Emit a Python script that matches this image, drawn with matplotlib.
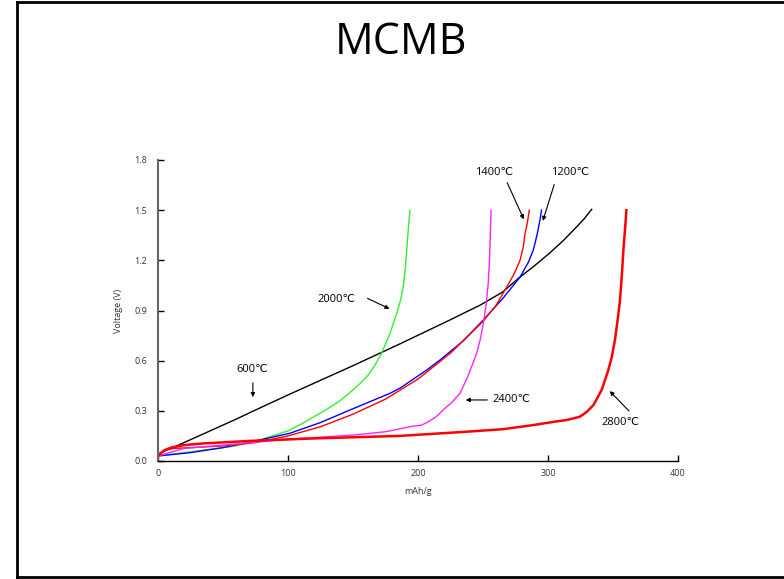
import matplotlib
matplotlib.use("Agg")
import matplotlib.pyplot as plt
from matplotlib.lines import Line2D

plt.rcParams['font.family'] = ['Open Sans', 'DejaVu Sans']

# Capacity (mAh/g) and voltage (V) for each heat-treatment temperature
cap_600 = [0, 5, 10, 20, 40, 60, 75, 100, 150, 186, 225, 248, 265, 278.5, 290, 301.5, 312, 322, 328, 333.6]
volt_600 = [0.04, 0.06, 0.075, 0.11, 0.18, 0.25, 0.305, 0.395, 0.57, 0.70, 0.845, 0.933, 1.01, 1.10, 1.17, 1.245, 1.32, 1.40, 1.45, 1.505]

cap_1200 = [0, 25, 50, 75, 101.5, 125, 147.7, 178.5, 186, 206.7, 216.9, 235, 250.2, 265, 278.5, 285, 288.7, 291.5, 293.8, 295]
volt_1200 = [0.03, 0.05, 0.08, 0.12, 0.166, 0.23, 0.305, 0.405, 0.435, 0.544, 0.604, 0.72, 0.843, 0.97, 1.10, 1.19, 1.262, 1.35, 1.44, 1.50]

cap_1400 = [0, 5, 12, 25, 50, 75, 100, 125, 150, 175, 200, 225, 250, 260, 268.2, 274, 278.5, 281, 282.3, 284, 285.6]
volt_1400 = [0.04, 0.065, 0.075, 0.08, 0.09, 0.11, 0.15, 0.205, 0.28, 0.37, 0.49, 0.645, 0.835, 0.93, 1.04, 1.12, 1.20, 1.28, 1.36, 1.42, 1.50]

cap_2000 = [0, 20, 40, 60, 80, 100, 110, 120, 130, 140, 147.7, 155, 161.8, 167, 172, 178.5, 183.6, 186.5, 188.7, 190.2, 191.3, 192.5, 193.8]
volt_2000 = [0.03, 0.05, 0.07, 0.09, 0.13, 0.18, 0.22, 0.265, 0.31, 0.36, 0.41, 0.46, 0.515, 0.575, 0.644, 0.764, 0.883, 0.96, 1.043, 1.15, 1.262, 1.38, 1.50]

cap_2400 = [0, 20, 50, 100, 150, 175, 193.8, 203, 208, 214, 220, 226, 232.3, 238, 242, 245.1, 248, 250.2, 252.3, 254, 255, 255.6, 256.2]
volt_2400 = [0.03, 0.075, 0.095, 0.13, 0.155, 0.175, 0.205, 0.215, 0.235, 0.265, 0.31, 0.35, 0.405, 0.50, 0.58, 0.644, 0.73, 0.82, 0.93, 1.06, 1.20, 1.35, 1.50]

cap_2800 = [0, 5, 10, 20, 35, 70, 120, 186, 237, 265, 288.7, 305, 314.4, 324.6, 330, 335, 341.3, 346.4,
            349, 351.5, 353.5, 355.4, 356.8, 358, 359.2, 360.3]
volt_2800 = [0.03, 0.065, 0.08, 0.095, 0.105, 0.12, 0.135, 0.15, 0.175, 0.19, 0.215, 0.235, 0.245, 0.265, 0.295, 0.335, 0.425, 0.544,
             0.62, 0.724, 0.84, 0.963, 1.11, 1.262, 1.38, 1.50]

x_ticks = [0, 100, 200, 300, 400]
y_ticks = [0.0, 0.3, 0.6, 0.9, 1.2, 1.5, 1.8]

fig = plt.figure(figsize=(7.84, 5.79), dpi=100)

# slide frame
fig.add_artist(Line2D([17/784, 17/784], [0, 1 - 2/579], transform=fig.transFigure, color='black', lw=2))
fig.add_artist(Line2D([17/784, 1], [1 - 2/579, 1 - 2/579], transform=fig.transFigure, color='black', lw=2))
fig.add_artist(Line2D([17/784, 1], [1 - 577/579, 1 - 577/579], transform=fig.transFigure, color='black', lw=2))

fig.text(401/784, 1 - 43/579, 'MCMB', ha='center', va='center', fontsize=31, color='black')

ax = fig.add_axes([158/784, 1 - 461/579, 520/784, 301/579])
ax.plot(cap_600, volt_600, color='black', lw=1.0)
ax.plot(cap_2000, volt_2000, color='#33ee33', lw=1.0)
ax.plot(cap_1200, volt_1200, color='blue', lw=1.0)
ax.plot(cap_1400, volt_1400, color='red', lw=1.0)
ax.plot(cap_2400, volt_2400, color='#ff22ff', lw=1.0)
ax.plot(cap_2800, volt_2800, color='red', lw=1.8)

ax.set_xlim(0, 400)
ax.set_ylim(0, 1.8)
ax.set_xticks(x_ticks)
ax.set_yticks(y_ticks)
ax.set_yticklabels([f'{v:.1f}' for v in y_ticks])
for s in ['top', 'right']:
    ax.spines[s].set_visible(False)
ax.spines['left'].set_color('#666666')
ax.spines['left'].set_linewidth(1.5)
ax.spines['bottom'].set_color('black')
ax.spines['bottom'].set_linewidth(1.0)
ax.tick_params(axis='both', direction='in', length=4, width=1, labelsize=6.5,
               labelcolor='#333333', pad=6)
ax.tick_params(axis='y', pad=8)
ax.set_xlabel('mAh/g', fontsize=6.5, color='#333333', labelpad=6)
ax.set_ylabel('Voltage (V)', fontsize=6.5, color='#333333', labelpad=8)

arrow = dict(arrowstyle='-|>', color='black', lw=0.8, mutation_scale=6)
ann_fs = 8
ax.annotate('', xy=(282.3, 1.43), xytext=(267.7, 1.68), arrowprops=arrow)
ax.text(258.5, 1.728, '1400℃', ha='center', va='center', fontsize=ann_fs)
ax.annotate('', xy=(295.4, 1.42), xytext=(305.4, 1.669), arrowprops=arrow)
ax.text(317, 1.728, '1200℃', ha='center', va='center', fontsize=ann_fs)
ax.annotate('', xy=(180, 0.903), xytext=(159.2, 0.98), arrowprops=arrow)
ax.text(137, 0.963, '2000℃', ha='center', va='center', fontsize=ann_fs)
ax.annotate('', xy=(73, 0.365), xytext=(73, 0.484), arrowprops=arrow)
ax.text(72.3, 0.55, '600℃', ha='center', va='center', fontsize=ann_fs)
ax.annotate('', xy=(234.6, 0.365), xytext=(255.4, 0.365), arrowprops=arrow)
ax.text(272, 0.365, '2400℃', ha='center', va='center', fontsize=ann_fs)
ax.annotate('', xy=(346, 0.43), xytext=(363.8, 0.287), arrowprops=arrow)
ax.text(356, 0.233, '2800℃', ha='center', va='center', fontsize=ann_fs)

fig.savefig('out.png', dpi=100)
